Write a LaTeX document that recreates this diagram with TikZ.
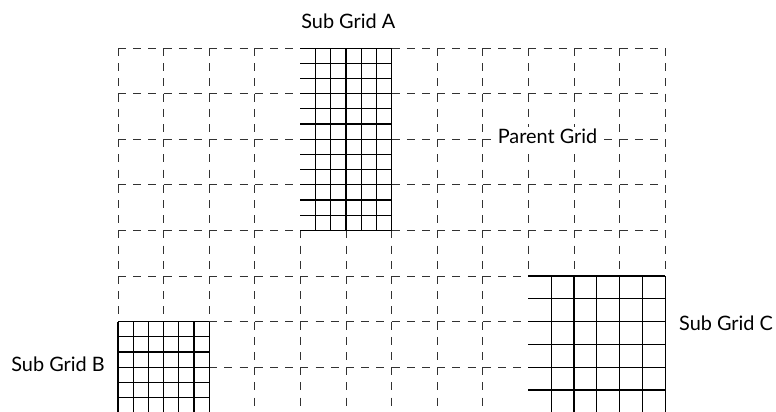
\documentclass[tikz,border=0pt]{standalone}
\usepackage{fontspec}
\setmainfont{Lato}
\usetikzlibrary{positioning}
\definecolor{parentcolor}{RGB}{50,50,50}
\definecolor{subcolor}{RGB}{0,0,0}

\begin{document}
\begin{tikzpicture}[
    parentline/.style={parentcolor, line width=0.6pt, dash pattern=on 5pt off 4.485pt},
    subline/.style={subcolor, line width=0.65pt},
    gridlabel/.style={font=\fontsize{12.4}{15}\selectfont, inner sep=0pt}
]

% Page: 776 x 411 px, one parent cell = 1cm (45.6 px)
\useasboundingbox (-2.588,-7.961) rectangle (14.43,1.053);
\clip (-2.588,-7.961) rectangle (14.43,1.053);

% Parent grid: 12 x 8 cells, dashed
\foreach \x in {0,...,12} {
    \draw[parentline] (\x,0) -- (\x,-8);
}
\foreach \y in {0,...,8} {
    \draw[parentline] (0,-\y) -- (12,-\y);
}

% Sub Grid A: 2 x 4 parent cells, refined 3 times
\fill[white] (4,-4) rectangle (6,0);
\draw[subline, step=0.333333] (4,-4) grid (6,0);

% Sub Grid B: 2 x 2 parent cells, refined 3 times
\fill[white] (0,-8) rectangle (2,-6);
\draw[subline, step=0.333333] (0,-8) grid (2,-6);

% Sub Grid C: 3 x 3 parent cells, refined 2 times
\fill[white] (9,-8) rectangle (12,-5);
\draw[subline, step=0.5] (9,-8) grid (12,-5);

% Labels
\node[gridlabel] (labelA) at (5.05,0.59) {Sub Grid A};
\node[gridlabel, anchor=east] (labelB) at (-0.285,-6.945) {Sub Grid B};
\node[gridlabel, anchor=west] (labelC) at (12.30,-6.04) {Sub Grid C};
\node[gridlabel, fill=white, inner sep=1.5pt] (labelParent) at (9.42,-1.945) {Parent Grid};

\end{tikzpicture}
\end{document}
